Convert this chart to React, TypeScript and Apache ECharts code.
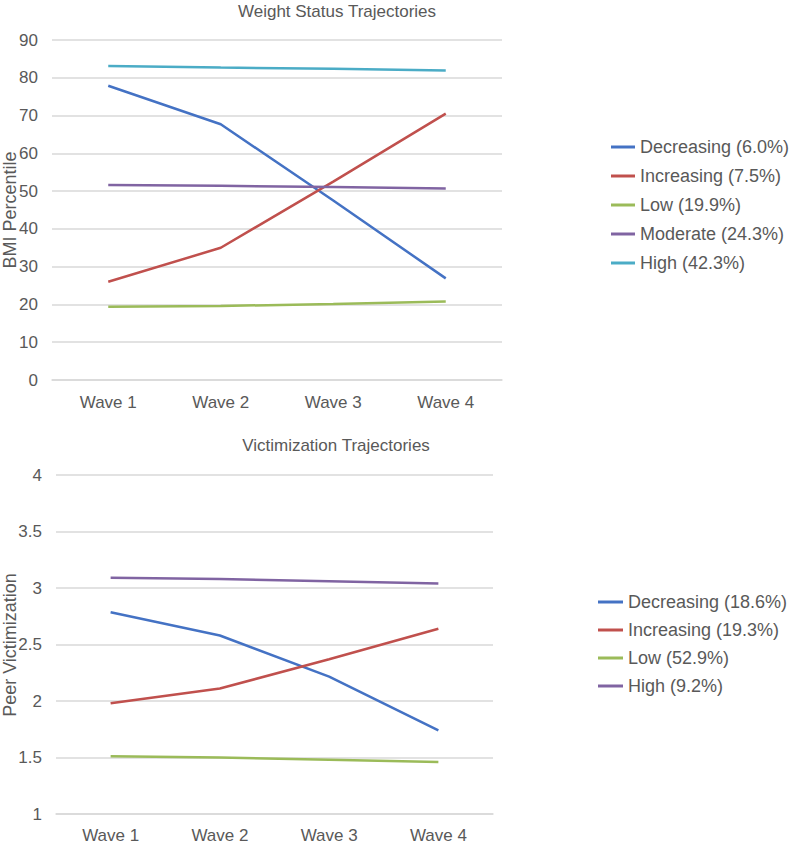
import React, { useEffect, useRef } from "react";
import * as echarts from "echarts";

const waves = ["Wave 1", "Wave 2", "Wave 3", "Wave 4"];

// Weight status trajectories (BMI percentile)
const weightNames = ["Decreasing (6.0%)", "Increasing (7.5%)", "Low (19.9%)", "Moderate (24.3%)", "High (42.3%)"];
const weightDecreasing = [77.9, 67.7, 47.5, 26.9];
const weightIncreasing = [26.0, 35.0, 52.5, 70.5];
const weightLow = [19.4, 19.6, 20.1, 20.8];
const weightModerate = [51.6, 51.4, 51.1, 50.7];
const weightHigh = [83.1, 82.7, 82.4, 81.9];

// Victimization trajectories (peer victimization)
const victNames = ["Decreasing (18.6%)", "Increasing (19.3%)", "Low (52.9%)", "High (9.2%)"];
const victDecreasing = [2.785, 2.58, 2.215, 1.74];
const victIncreasing = [1.98, 2.11, 2.37, 2.64];
const victLow = [1.51, 1.5, 1.48, 1.46];
const victHigh = [3.09, 3.08, 3.06, 3.04];

const BLUE = "#4472C4";
const RED = "#C0504D";
const GREEN = "#9BBB59";
const PURPLE = "#8064A2";
const CYAN = "#4BACC6";
const TEXT = "#595959";
const GRID = "#D9D9D9";
const FONT = "'Liberation Sans', Arial, sans-serif";

export default function App() {
  const ref = useRef<HTMLDivElement>(null);
  useEffect(() => {
    document.body.style.margin = "0";
    if (!ref.current) return;
    const chart = echarts.init(ref.current, undefined, { renderer: "svg" });

    const xAxisBase = (gridIndex: number, margin: number) => ({
      type: "category" as const,
      gridIndex,
      data: waves,
      boundaryGap: true,
      axisLine: { show: true, lineStyle: { color: GRID, width: 1.5 } },
      axisTick: { show: false },
      axisLabel: { color: TEXT, fontSize: 17, fontFamily: FONT, margin },
      splitLine: { show: false },
    });

    const line = (name: string, data: number[], color: string, idx: number) => ({
      type: "line" as const,
      name,
      data,
      xAxisIndex: idx,
      yAxisIndex: idx,
      showSymbol: false,
      symbol: "none",
      lineStyle: { color, width: 2.5 },
      itemStyle: { color },
      z: 3,
    });

    const text = (t: string, x: number, y: number, size: number, rotation = 0) => ({
      type: "text",
      x,
      y,
      rotation,
      style: {
        text: t,
        fill: TEXT,
        font: `${size}px ${FONT}`,
        textAlign: "center",
        textVerticalAlign: "middle",
      },
    });

    chart.setOption({
      animation: false,
      textStyle: { fontFamily: FONT },
      graphic: [
        text("Weight Status Trajectories", 337, 11, 17),
        text("Victimization Trajectories", 336, 445, 17),
        text("BMI Percentile", 10, 210, 18, Math.PI / 2),
        text("Peer Victimization", 10, 645, 18, Math.PI / 2),
      ],
      grid: [
        { left: 52, top: 40, width: 450, height: 340, containLabel: false, outerBoundsMode: "none" },
        { left: 56, top: 475, width: 437, height: 339, containLabel: false, outerBoundsMode: "none" },
      ],
      legend: [
        {
          orient: "vertical",
          left: 611,
          top: 137,
          padding: 0,
          icon: "rect",
          itemWidth: 24,
          itemHeight: 3,
          itemGap: 9,
          data: weightNames,
          textStyle: { color: TEXT, fontSize: 18, fontFamily: FONT, lineHeight: 20 },
        },
        {
          orient: "vertical",
          left: 598,
          top: 592,
          padding: 0,
          icon: "rect",
          itemWidth: 25,
          itemHeight: 3,
          itemGap: 8,
          data: victNames,
          textStyle: { color: TEXT, fontSize: 18, fontFamily: FONT, lineHeight: 20 },
        },
      ],
      xAxis: [xAxisBase(0, 14), xAxisBase(1, 13)],
      yAxis: [
        {
          type: "value",
          gridIndex: 0,
          min: 0,
          max: 90,
          interval: 10,
          axisLine: { show: false },
          axisTick: { show: false },
          axisLabel: { color: TEXT, fontSize: 17, fontFamily: FONT, margin: 14 },
          splitLine: { show: true, lineStyle: { color: GRID, width: 1.5 } },
        },
        {
          type: "value",
          gridIndex: 1,
          min: 1,
          max: 4,
          interval: 0.5,
          axisLine: { show: false },
          axisTick: { show: false },
          axisLabel: { color: TEXT, fontSize: 17, fontFamily: FONT, margin: 14 },
          splitLine: { show: true, lineStyle: { color: GRID, width: 1.5 } },
        },
      ],
      series: [
        line(weightNames[0], weightDecreasing, BLUE, 0),
        line(weightNames[1], weightIncreasing, RED, 0),
        line(weightNames[2], weightLow, GREEN, 0),
        line(weightNames[3], weightModerate, PURPLE, 0),
        line(weightNames[4], weightHigh, CYAN, 0),
        line(victNames[0], victDecreasing, BLUE, 1),
        line(victNames[1], victIncreasing, RED, 1),
        line(victNames[2], victLow, GREEN, 1),
        line(victNames[3], victHigh, PURPLE, 1),
      ],
    });
    return () => chart.dispose();
  }, []);
  return (
    <div
      ref={ref}
      style={{ position: "absolute", left: 0, top: 0, width: 800, height: 844, background: "#fff" }}
    />
  );
}
